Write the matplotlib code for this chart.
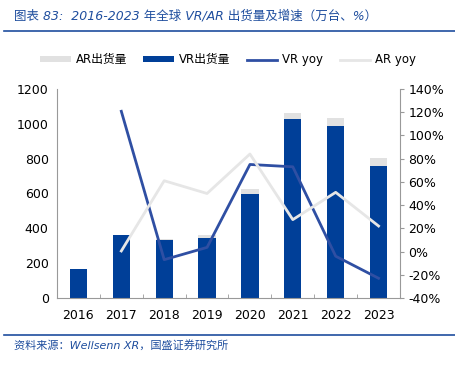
import matplotlib
matplotlib.use('Agg')
from matplotlib import pyplot as plt
import numpy as np

plt.rcParams['font.family'] = ['DejaVu Sans', 'Noto Sans CJK SC']

# 数据
years = ['2016', '2017', '2018', '2019', '2020', '2021', '2022', '2023']
vr_ship = [166, 360, 335, 346, 600, 1030, 990, 756]
ar_ship = [0, 0, 6, 14, 25, 30, 41, 50]
vr_yoy = [None, 120.8, -7, 3.6, 75, 73, -4, -23]
ar_yoy = [None, 0.5, 61, 50, 84, 27.5, 51, 22]

vr_color = '#003f98'
ar_color = '#e1e1e1'
vr_line = '#2f4fa3'
ar_line = '#e6e6e6'
title_color = '#1f4e9e'

fig = plt.figure(figsize=(4.56, 3.71), dpi=100)

# 标题和分隔线
fig.text(14/456, 1-16/371, '图表 83:  2016-2023 年全球 VR/AR 出货量及增速（万台、%）',
         fontsize=9, color=title_color, style='italic', va='center',
         family=['DejaVu Sans', 'Noto Sans CJK SC'])
fig.add_artist(plt.Line2D([4/456, 455/456], [1-31/371, 1-31/371], color=title_color, lw=1.2))
fig.add_artist(plt.Line2D([4/456, 455/456], [1-335/371, 1-335/371], color=title_color, lw=1.2))
fig.text(14/456, 1-345/371, '资料来源：Wellsenn XR，国盛证券研究所',
         fontsize=8, color=title_color, style='italic', va='center',
         family=['DejaVu Sans', 'Noto Sans CJK SC'])

ax = fig.add_axes([57/456, 1-298/371, 343/456, 209/371])
x = np.arange(len(years))
ax.bar(x, vr_ship, width=0.4, color=vr_color, label='VR出货量', zorder=2)
ax.bar(x, ar_ship, width=0.4, bottom=vr_ship, color=ar_color, label='AR出货量', zorder=2)
ax.set_ylim(0, 1200)
ax.set_yticks(range(0, 1201, 200))
ax.set_xlim(-0.5, len(years) - 0.5)
ax.set_xticks(x)
ax.set_xticklabels(years)
ax.set_xticks(np.arange(-0.5, len(years), 1), minor=True)
ax.tick_params(axis='x', which='major', length=0, pad=8)
ax.tick_params(axis='x', which='minor', length=3, direction='in', color='#999999')
ax.tick_params(axis='y', length=0, pad=6)
ax.tick_params(labelsize=9)
for s in ['top', 'right']:
    ax.spines[s].set_visible(False)
ax.spines['left'].set_color('#999999')
ax.spines['bottom'].set_color('#999999')

ax2 = ax.twinx()
xv = [i for i, v in enumerate(vr_yoy) if v is not None]
ax2.plot(xv, [vr_yoy[i] for i in xv], color=vr_line, lw=2, label='VR yoy', zorder=3)
xa = [i for i, v in enumerate(ar_yoy) if v is not None]
ax2.plot(xa, [ar_yoy[i] for i in xa], color=ar_line, lw=2, label='AR yoy', zorder=3)
ax2.set_ylim(-40, 140)
ax2.set_yticks(range(-40, 141, 20))
ax2.set_yticklabels([f'{v}%' for v in range(-40, 141, 20)])
ax2.tick_params(axis='y', length=3, direction='out', color='#999999', labelsize=9, pad=3)
for s in ['top', 'left', 'bottom']:
    ax2.spines[s].set_visible(False)
ax2.spines['right'].set_color('#999999')

# 图例
h1, l1 = ax.get_legend_handles_labels()
h2, l2 = ax2.get_legend_handles_labels()
handles = [h1[1], h1[0], h2[0], h2[1]]
labels = [l1[1], l1[0], l2[0], l2[1]]
fig.legend(handles, labels, loc='center', bbox_to_anchor=(0.5, 1-60/371), ncol=4,
           frameon=False, handlelength=2.6, handleheight=0.4,
           columnspacing=1.4, handletextpad=0.4,
           prop={'family': ['DejaVu Sans', 'Noto Sans CJK SC'], 'size': 8.5})

fig.savefig('out.png', dpi=100)
